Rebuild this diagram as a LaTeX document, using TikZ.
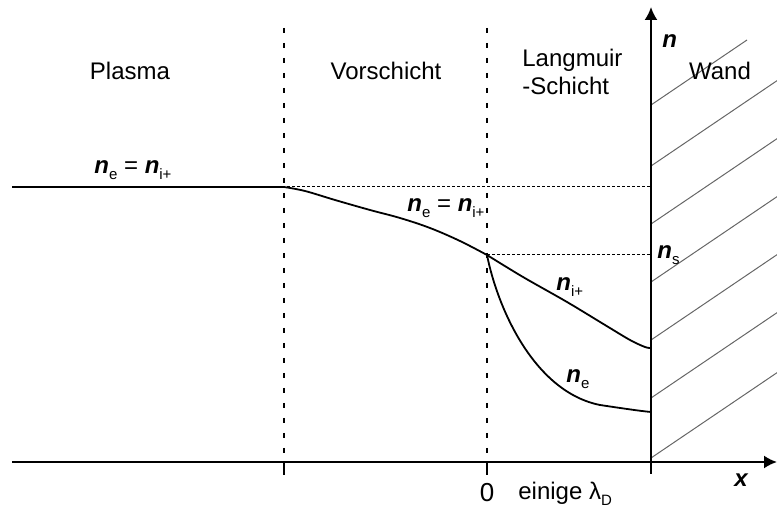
\documentclass[tikz,border=0pt]{standalone}
\usepackage{fontspec}
\setmainfont{Liberation Sans}
\usetikzlibrary{arrows.meta}
\newcommand{\densub}[1]{\raisebox{-0.4ex}{\fontsize{7.5}{8}\selectfont #1}}
\newcommand{\densym}[1]{{\bfseries\itshape n}\densub{#1}}
\begin{document}
\begin{tikzpicture}[x=0.5pt,y=-0.5pt,
  font=\fontsize{12}{14}\selectfont,
  axisline/.style={line width=1pt},
  divider/.style={line width=1pt, dash pattern=on 2.5pt off 5pt},
  guide/.style={line width=0.5pt, dash pattern=on 1.5pt off 1pt},
  curveline/.style={line width=0.9pt},
  hatchline/.style={line width=0.5pt, black!60},
  lbl/.style={anchor=base, inner sep=0pt},
  tip/.style={-{Latex[length=6.5pt,width=6.5pt]}}]
\useasboundingbox (0,0) rectangle (777,507);

% key coordinates
\coordinate (xl) at (12,462);
\coordinate (xr) at (777,462);
\coordinate (wb) at (651,462);
\coordinate (wt) at (651,7);
\coordinate (pA) at (284,187);
\coordinate (pB) at (487,255);
\coordinate (wA) at (651,187);
\coordinate (wB) at (651,255);
\coordinate (pl) at (12,187);

% hatching of the wall
\begin{scope}
  \clip (651,0) rectangle (777,507);
  \foreach \y in {166,224,282,340,398,458}
    \draw[hatchline] (651,\y) -- ++(200,-135.4);
  \draw[hatchline] (651,105) -- (747,40);
\end{scope}

% dotted region dividers
\draw[divider] (284,28) coordinate (d1t) -- (284,455) coordinate (d1b);
\draw[divider] (487,28) coordinate (d2t) -- (487,455) coordinate (d2b);

% guide lines
\draw[line width=0.8pt] (pl) -- (pA);
\draw[guide] (pl) -- (wA);
\draw[guide] (pB) -- (wB);

% axes
\draw[axisline, tip] (xl) -- (xr);
\draw[axisline, tip] (wb) -- (wt);
\draw[axisline] (284,462) -- (284,475);
\draw[axisline] (487,462) -- (487,475);
\draw[axisline] (651,462) -- (651,474);

% density curves
\draw[curveline] plot[smooth, tension=0.6] coordinates
  {(284,187) (305,191) (335,200) (370,210) (400,218) (430,228) (460,241) (487,255)};
\draw[curveline] plot[smooth, tension=0.55] coordinates
  {(487,255) (523,277) (567,302) (605,325) (630,340) (645,347) (651,348)};
\draw[curveline] (pB) .. controls (498,310) and (535,392) .. (600,405)
  .. controls (620,408) and (640,411) .. (651,412);

% region labels
\node[lbl] (plasma) at (130,80) {Plasma};
\node[lbl] (vor) at (386,80) {Vorschicht};
\node[lbl, anchor=base west] (lang1) at (522,67) {Langmuir};
\node[lbl, anchor=base west] (lang2) at (522,95) {-Schicht};
\node[lbl] (wand) at (720,80) {Wand};

% quantity labels
\node[lbl, anchor=base west] (eq1) at (94,174) {\densym{e} = \densym{i+}};
\node[lbl, anchor=base west] (eq2) at (407,212) {\densym{e} = \densym{i+}};
\node[lbl, anchor=base west] (ni) at (556,291) {\densym{i+}};
\node[lbl, anchor=base west] (ne) at (566,383) {\densym{e}};
\node[lbl, anchor=base west] (ns) at (657,259) {\densym{s}};
\node[lbl, anchor=base west] (nax) at (662,48) {\bfseries\itshape n};
\node[lbl, anchor=base west] (xax) at (734,487) {\bfseries\itshape x};
\node[lbl, font=\fontsize{13}{15}\selectfont] (zero) at (487,502) {0};
\node[lbl, anchor=base west] (ein) at (518,500) {einige λ\densub{D}};
\end{tikzpicture}
\end{document}
